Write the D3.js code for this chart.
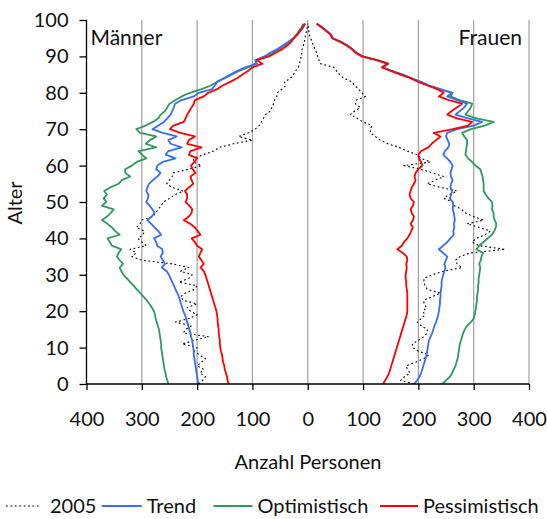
<!DOCTYPE html>
<html><head><meta charset="utf-8">
<script src="https://cdn.jsdelivr.net/npm/d3@7/dist/d3.min.js"></script>
<style>
html,body{margin:0;padding:0;background:#fff;}
svg{display:block;font-family:Lato,"Open Sans",sans-serif;}
</style></head>
<body>
<svg id="chart" width="547" height="519"></svg>
<script>
// Ages 0..99
const ages = d3.range(0, 100);
const xTicks = [-400,-300,-200,-100,0,100,200,300,400];
const yTicks = [0,10,20,30,40,50,60,70,80,90,100];
const seriesNames = ["2005","Trend","Optimistisch","Pessimistisch"];

// Männer (values per age)
const men2005 = [197,190,185,195,188,200,192,185,196,205,
200,227,205,179,225,221,210,239,215,200,
212,218,200,225,230,221,205,200,233,215,
209,230,215,245,300,318,310,321,292,300,
307,298,295,310,303,301,280,275,270,265,
261,250,240,225,245,255,250,245,243,215,
192,207,206,189,170,160,134,100,125,107,
95,88,84,80,77,67,65,62,60,56,
55,47,40,42,31,26,22,17,15,13,
12,11,10,8,6,5,4,2,1,0];
const menTrend = [198,199,200,201,202,203,204,205,206,206,
207,208,209,211,212,214,216,218,220,222,
225,227,229,231,233,236,239,242,245,248,
251,255,264,258,262,266,262,263,272,274,
278,265,270,277,283,290,282,277,281,286,
292,289,288,292,290,287,280,272,266,274,
272,262,239,257,252,228,248,252,237,262,
281,270,260,254,248,245,242,240,228,206,
197,173,168,164,152,140,128,113,92,95,
78,68,55,45,35,26,19,13,8,5];
const menOpt = [252,254,256,257,259,260,261,262,263,264,
265,265,266,267,268,269,271,273,275,276,
278,282,286,291,297,303,309,315,321,327,
333,337,340,334,340,345,342,337,354,358,
362,340,348,354,362,372,363,356,351,372,
364,369,363,368,357,342,336,321,330,330,
318,309,292,300,306,274,293,285,274,303,
310,293,280,270,266,258,254,250,239,228,
213,192,175,164,150,138,124,108,94,92,
77,64,52,42,33,26,20,16,11,8];
const menPess = [143,145,146,148,150,151,153,154,155,157,
158,159,159,160,161,161,162,163,163,164,
165,167,169,171,173,175,177,179,181,183,
185,188,194,188,192,197,194,191,200,204,
210,194,199,204,212,224,215,210,209,214,
221,218,218,222,215,207,210,212,203,208,
211,205,200,215,212,192,218,215,204,230,
249,243,224,221,218,214,210,206,204,188,
180,164,154,140,128,118,108,100,82,92,
70,58,46,37,30,25,19,14,9,5];

// Frauen (values per age)
const women2005 = [192,168,175,185,180,178,195,210,219,200,
190,189,200,210,216,216,205,198,205,212,
208,215,210,210,225,240,216,212,210,210,
225,246,279,270,267,275,294,357,310,297,
305,320,330,310,288,318,300,285,278,265,
262,246,255,270,240,216,230,246,225,204,
174,222,205,198,180,165,145,131,122,113,
114,116,100,89,77,85,95,86,88,104,
98,92,85,80,65,58,52,47,23,20,
18,16,13,10,8,5,3,2,1,0];
const womenTrend = [192,198,202,205,207,209,211,213,215,216,
217,218,219,222,225,227,229,232,234,236,
237,238,239,239,240,240,241,242,242,243,
245,247,249,247,250,252,245,237,245,252,
258,264,263,265,264,266,265,264,262,263,
262,257,259,261,258,259,262,259,258,260,
262,258,252,245,248,254,256,253,250,252,
270,300,315,290,267,275,283,288,270,252,
261,240,220,205,188,172,152,136,145,124,
98,88,80,72,60,45,42,34,26,16];
const womenOpt = [243,250,257,261,264,267,269,271,272,273,
274,275,277,279,281,284,288,295,300,302,
303,304,305,306,306,307,308,308,309,309,
310,311,312,310,313,314,317,305,310,318,
325,333,337,340,341,338,336,336,333,334,
333,327,322,318,318,318,317,316,314,312,
303,297,290,285,286,287,288,288,283,279,
295,320,336,305,285,290,295,297,275,258,
262,238,218,202,188,170,152,136,146,126,
100,88,81,72,60,45,42,34,26,16];
const womenPess = [136,140,144,147,149,151,153,155,157,159,
161,163,165,167,169,171,173,175,177,179,
180,180,180,180,180,180,179,178,178,177,
177,178,179,178,180,179,172,162,170,174,
180,184,187,190,186,190,192,188,186,190,
192,186,184,186,188,192,195,193,195,200,
207,205,201,200,205,218,224,232,240,228,
262,290,297,270,252,260,270,279,255,237,
246,234,216,200,186,168,150,134,144,125,
98,86,80,70,59,44,41,33,25,16];

const colors = {"2005":"#000000","Trend":"#3b6cf5","Optimistisch":"#2f9a5e","Pessimistisch":"#ff0000"};

const svg = d3.select("#chart");
const pL = 86.5, pR = 529, pT = 20, pB = 384;
const x = d3.scaleLinear().domain([-400,400]).range([pL,pR]);
const y = d3.scaleLinear().domain([0,100]).range([pB,pT]);

// gridlines
svg.append("g").selectAll("line").data(xTicks.filter(d=>d>-400)).join("line")
  .attr("x1",d=>x(d)).attr("x2",d=>x(d)).attr("y1",y(0)).attr("y2",y(100))
  .attr("stroke","#a0a0a0").attr("stroke-width",1.2);

// lines
const lineGen = sign => d3.line().x(d=>x(sign*d[1])).y(d=>y(d[0]));
const sets = [
  {name:"2005", m:men2005, f:women2005},
  {name:"Trend", m:menTrend, f:womenTrend},
  {name:"Optimistisch", m:menOpt, f:womenOpt},
  {name:"Pessimistisch", m:menPess, f:womenPess}
];
const drawOrder = ["2005","Optimistisch","Trend","Pessimistisch"];
drawOrder.forEach(n=>{
  const s = sets.find(t=>t.name===n);
  [[-1,s.m],[1,s.f]].forEach(([sg,vals])=>{
    const p = svg.append("path")
      .datum(ages.map((a,i)=>[a,vals[i]]))
      .attr("d", lineGen(sg))
      .attr("fill","none")
      .attr("stroke", colors[n])
      .attr("stroke-linejoin","round");
    if(n==="2005"){ p.attr("stroke-width",1.1).attr("stroke-dasharray","1.8,2.6"); }
    else { p.attr("stroke-width",1.8); }
  });
});

// axes
const fs = 20;
const xAxis = d3.axisBottom(x).tickValues(xTicks).tickFormat(d=>Math.abs(d)).tickSize(6).tickPadding(22);
const gx = svg.append("g").attr("transform",`translate(0,${pB})`).call(xAxis);
gx.select(".domain").attr("d",`M${pL},0H${pR}`).attr("stroke","#000").attr("stroke-width",1.3);
gx.selectAll(".tick line").attr("stroke","#000").attr("stroke-width",1.3);
gx.selectAll("text").attr("font-size",fs).attr("font-family","Lato").attr("fill","#111");

const yAxis = d3.axisLeft(y).tickValues(yTicks).tickSize(7).tickPadding(11);
const gy = svg.append("g").attr("transform",`translate(${pL},0)`).call(yAxis);
gy.select(".domain").attr("d",`M0,${pB}V${pT}`).attr("stroke","#000").attr("stroke-width",1.3);
gy.selectAll(".tick line").attr("stroke","#000").attr("stroke-width",1.3);
gy.selectAll("text").attr("font-size",fs).attr("font-family","Lato").attr("fill","#111");

// labels
svg.append("text").attr("x",90.5).attr("y",45).attr("font-size",21).attr("fill","#111").text("Männer");
svg.append("text").attr("x",522).attr("y",45).attr("text-anchor","end").attr("font-size",21).attr("fill","#111").text("Frauen");
svg.append("text").attr("transform","translate(22,203) rotate(-90)").attr("text-anchor","middle")
  .attr("font-size",fs).attr("fill","#111").text("Alter");
svg.append("text").attr("x",308).attr("y",469).attr("text-anchor","middle")
  .attr("font-size",fs).attr("fill","#111").text("Anzahl Personen");

// legend
const legX = [6, 101.7, 213.5, 380];
const legLen = [33, 40, 39, 38];
const legY = 506;
const lg = svg.append("g");
seriesNames.forEach((n,i)=>{
  const l = lg.append("line").attr("x1",legX[i]).attr("x2",legX[i]+legLen[i]).attr("y1",legY).attr("y2",legY)
    .attr("stroke",colors[n]);
  if(n==="2005") l.attr("stroke-width",1.1).attr("stroke-dasharray","1.8,2.6");
  else l.attr("stroke-width",1.8);
  lg.append("text").attr("x",legX[i]+legLen[i]+(i===0?11:5)).attr("y",legY).attr("dy","0.35em")
    .attr("font-size",fs).attr("fill","#111").text(n);
});
</script>
</body></html>
